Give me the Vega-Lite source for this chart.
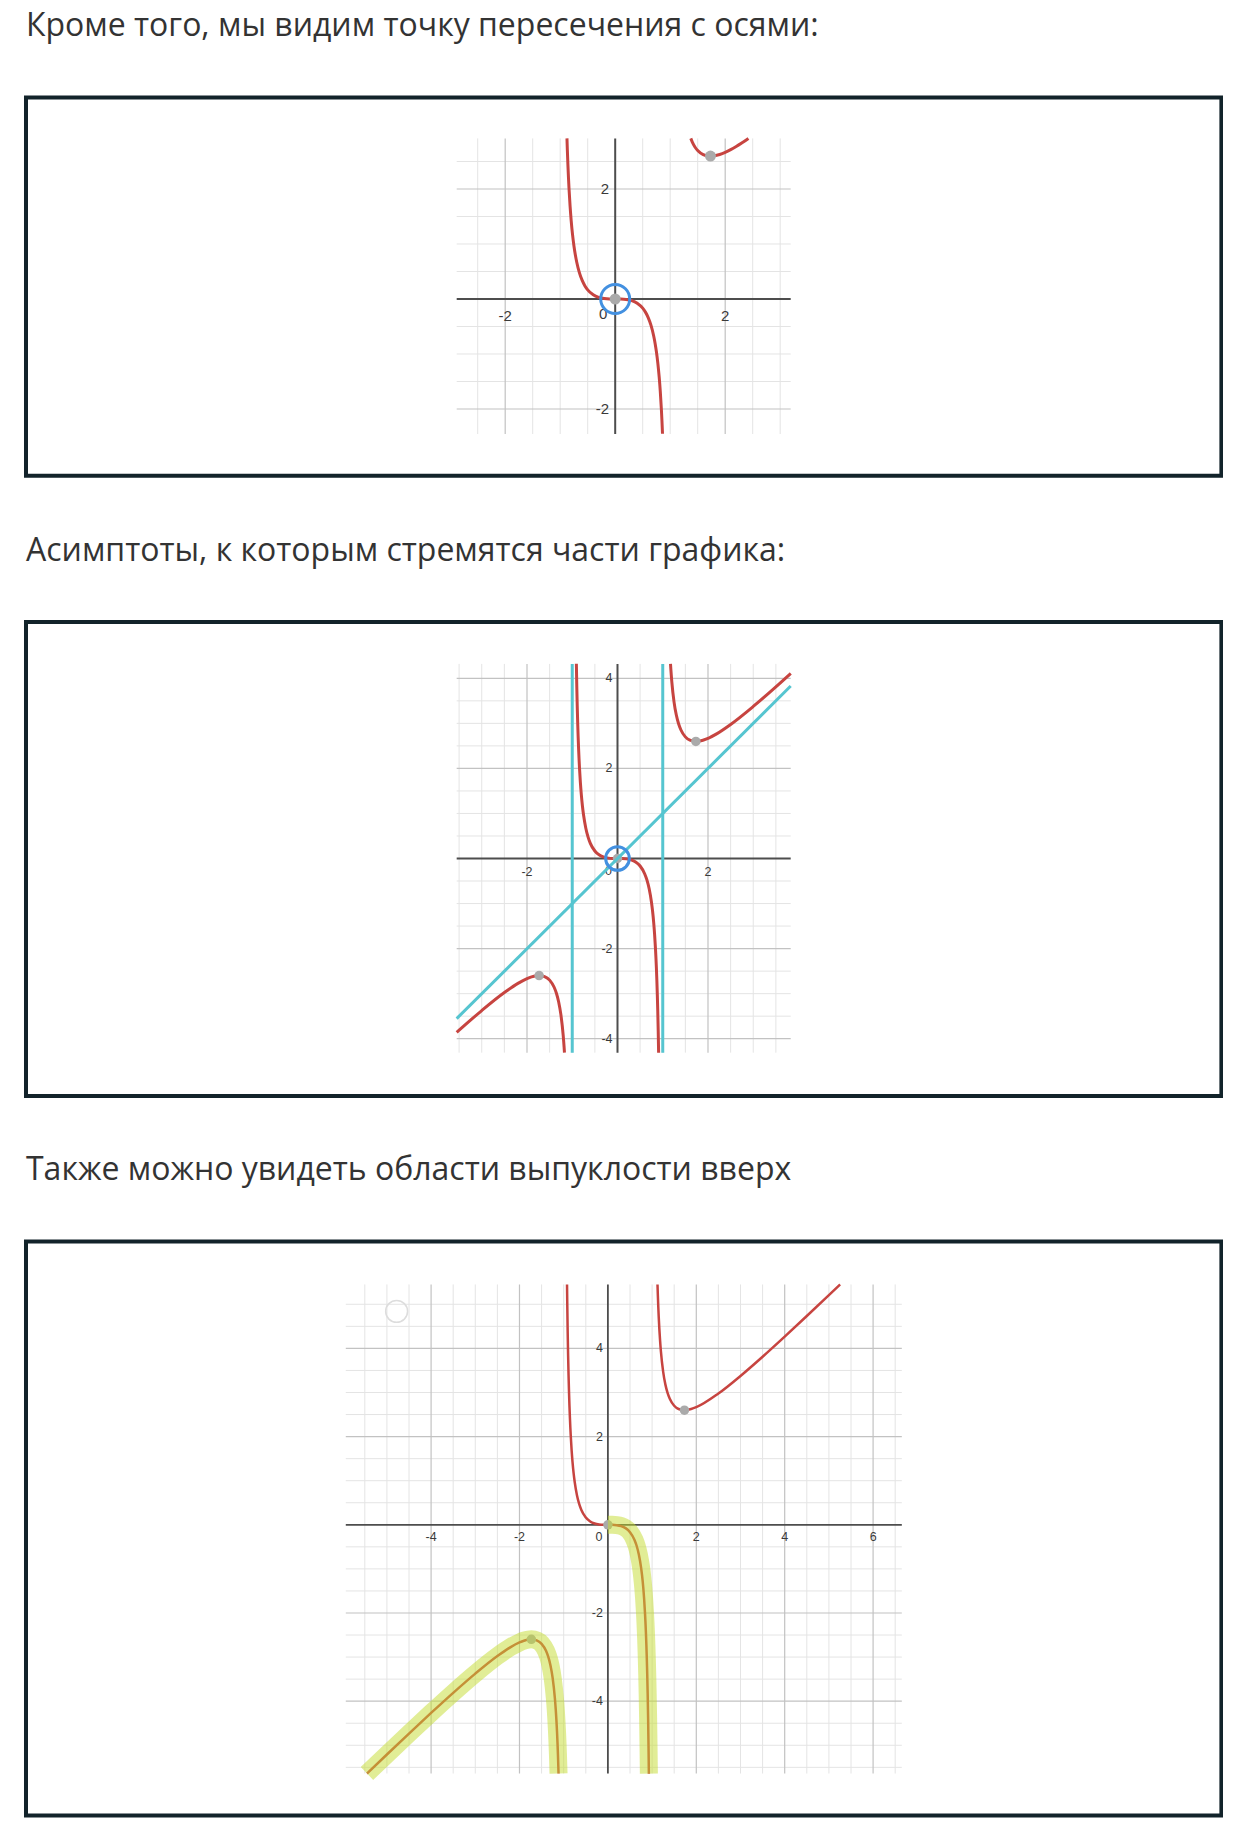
{
  "$schema": "https://vega.github.io/schema/vega-lite/v6.json",
  "background": "white",
  "padding": {"left": 24, "top": 7.5, "right": 0, "bottom": 0},
  "spacing": 53.5,
  "config": {
    "view": {"stroke": "#12232a", "strokeWidth": 4, "fill": "white"},
    "title": {"font": "Open Sans", "fontSize": 32, "fontWeight": "normal", "color": "#333333", "anchor": "start", "offset": 54.5, "baseline": "alphabetic"},
    "axis": {"disable": true},
    "legend": {"disable": true}
  },
  "datasets": {
    "grid1": [
      {"d":"v","v":-2.5,"l":"minor"},{"d":"v","v":-1.5,"l":"minor"},{"d":"v","v":-1,"l":"minor"},{"d":"v","v":-0.5,"l":"minor"},{"d":"v","v":0.5,"l":"minor"},{"d":"v","v":1,"l":"minor"},{"d":"v","v":1.5,"l":"minor"},{"d":"v","v":2.5,"l":"minor"},{"d":"v","v":3,"l":"minor"},
      {"d":"v","v":-2,"l":"major"},{"d":"v","v":2,"l":"major"},{"d":"v","v":0,"l":"zero"},
      {"d":"h","v":-1.5,"l":"minor"},{"d":"h","v":-1,"l":"minor"},{"d":"h","v":-0.5,"l":"minor"},{"d":"h","v":0.5,"l":"minor"},{"d":"h","v":1,"l":"minor"},{"d":"h","v":1.5,"l":"minor"},{"d":"h","v":2.5,"l":"minor"},
      {"d":"h","v":-2,"l":"major"},{"d":"h","v":2,"l":"major"},{"d":"h","v":0,"l":"zero"}
    ],
    "grid2": [
      {"d":"v","v":-3.5,"l":"minor"},{"d":"v","v":-3,"l":"minor"},{"d":"v","v":-2.5,"l":"minor"},{"d":"v","v":-1.5,"l":"minor"},{"d":"v","v":-1,"l":"minor"},{"d":"v","v":-0.5,"l":"minor"},{"d":"v","v":0.5,"l":"minor"},{"d":"v","v":1,"l":"minor"},{"d":"v","v":1.5,"l":"minor"},{"d":"v","v":2.5,"l":"minor"},{"d":"v","v":3,"l":"minor"},{"d":"v","v":3.5,"l":"minor"},
      {"d":"v","v":-2,"l":"major"},{"d":"v","v":2,"l":"major"},{"d":"v","v":0,"l":"zero"},
      {"d":"h","v":-3.5,"l":"minor"},{"d":"h","v":-3,"l":"minor"},{"d":"h","v":-2.5,"l":"minor"},{"d":"h","v":-1.5,"l":"minor"},{"d":"h","v":-1,"l":"minor"},{"d":"h","v":-0.5,"l":"minor"},{"d":"h","v":0.5,"l":"minor"},{"d":"h","v":1,"l":"minor"},{"d":"h","v":1.5,"l":"minor"},{"d":"h","v":2.5,"l":"minor"},{"d":"h","v":3,"l":"minor"},{"d":"h","v":3.5,"l":"minor"},
      {"d":"h","v":-4,"l":"major"},{"d":"h","v":-2,"l":"major"},{"d":"h","v":2,"l":"major"},{"d":"h","v":4,"l":"major"},{"d":"h","v":0,"l":"zero"}
    ],
    "grid3": [
      {"d":"v","v":-5.5,"l":"minor"},{"d":"v","v":-5,"l":"minor"},{"d":"v","v":-4.5,"l":"minor"},{"d":"v","v":-3.5,"l":"minor"},{"d":"v","v":-3,"l":"minor"},{"d":"v","v":-2.5,"l":"minor"},{"d":"v","v":-1.5,"l":"minor"},{"d":"v","v":-1,"l":"minor"},{"d":"v","v":-0.5,"l":"minor"},{"d":"v","v":0.5,"l":"minor"},{"d":"v","v":1,"l":"minor"},{"d":"v","v":1.5,"l":"minor"},{"d":"v","v":2.5,"l":"minor"},{"d":"v","v":3,"l":"minor"},{"d":"v","v":3.5,"l":"minor"},{"d":"v","v":4.5,"l":"minor"},{"d":"v","v":5,"l":"minor"},{"d":"v","v":5.5,"l":"minor"},{"d":"v","v":6.5,"l":"minor"},
      {"d":"v","v":-4,"l":"major"},{"d":"v","v":-2,"l":"major"},{"d":"v","v":2,"l":"major"},{"d":"v","v":4,"l":"major"},{"d":"v","v":6,"l":"major"},{"d":"v","v":0,"l":"zero"},
      {"d":"h","v":-5.5,"l":"minor"},{"d":"h","v":-5,"l":"minor"},{"d":"h","v":-4.5,"l":"minor"},{"d":"h","v":-3.5,"l":"minor"},{"d":"h","v":-3,"l":"minor"},{"d":"h","v":-2.5,"l":"minor"},{"d":"h","v":-1.5,"l":"minor"},{"d":"h","v":-1,"l":"minor"},{"d":"h","v":-0.5,"l":"minor"},{"d":"h","v":0.5,"l":"minor"},{"d":"h","v":1,"l":"minor"},{"d":"h","v":1.5,"l":"minor"},{"d":"h","v":2.5,"l":"minor"},{"d":"h","v":3,"l":"minor"},{"d":"h","v":3.5,"l":"minor"},{"d":"h","v":4.5,"l":"minor"},{"d":"h","v":5,"l":"minor"},
      {"d":"h","v":-4,"l":"major"},{"d":"h","v":-2,"l":"major"},{"d":"h","v":2,"l":"major"},{"d":"h","v":4,"l":"major"},{"d":"h","v":0,"l":"zero"}
    ],
    "lab1": [
      {"x":-2,"y":0,"t":"-2","k":"x"},{"x":2,"y":0,"t":"2","k":"x"},{"x":0,"y":0,"t":"0","k":"o"},
      {"x":0,"y":2,"t":"2","k":"y"},{"x":0,"y":-2,"t":"-2","k":"y"}
    ],
    "lab2": [
      {"x":-2,"y":0,"t":"-2","k":"x"},{"x":2,"y":0,"t":"2","k":"x"},{"x":0,"y":0,"t":"0","k":"o"},
      {"x":0,"y":4,"t":"4","k":"y"},{"x":0,"y":2,"t":"2","k":"y"},{"x":0,"y":-2,"t":"-2","k":"y"},{"x":0,"y":-4,"t":"-4","k":"y"}
    ],
    "lab3": [
      {"x":-4,"y":0,"t":"-4","k":"x"},{"x":-2,"y":0,"t":"-2","k":"x"},{"x":2,"y":0,"t":"2","k":"x"},{"x":4,"y":0,"t":"4","k":"x"},{"x":6,"y":0,"t":"6","k":"x"},{"x":0,"y":0,"t":"0","k":"o"},
      {"x":0,"y":4,"t":"4","k":"y"},{"x":0,"y":2,"t":"2","k":"y"},{"x":0,"y":-2,"t":"-2","k":"y"},{"x":0,"y":-4,"t":"-4","k":"y"}
    ],
    "curve1": [
      {"b":"mid","x":-0.877,"y":2.9217},{"b":"mid","x":-0.87,"y":2.7088},{"b":"mid","x":-0.86,"y":2.4426},{"b":"mid","x":-0.85,"y":2.2131},{"b":"mid","x":-0.84,"y":2.0133},{"b":"mid","x":-0.82,"y":1.683},{"b":"mid","x":-0.8,"y":1.4222},{"b":"mid","x":-0.775,"y":1.1655},{"b":"mid","x":-0.75,"y":0.9643},{"b":"mid","x":-0.725,"y":0.8033},{"b":"mid","x":-0.7,"y":0.6725},{"b":"mid","x":-0.65,"y":0.4755},{"b":"mid","x":-0.6,"y":0.3375},{"b":"mid","x":-0.55,"y":0.2385},{"b":"mid","x":-0.5,"y":0.1667},{"b":"mid","x":-0.4,"y":0.0762},{"b":"mid","x":-0.3,"y":0.0297},{"b":"mid","x":-0.2,"y":0.0083},{"b":"mid","x":-0.1,"y":0.001},{"b":"mid","x":0,"y":0},
      {"b":"mid","x":0.1,"y":-0.001},{"b":"mid","x":0.2,"y":-0.0083},{"b":"mid","x":0.3,"y":-0.0297},{"b":"mid","x":0.4,"y":-0.0762},{"b":"mid","x":0.5,"y":-0.1667},{"b":"mid","x":0.55,"y":-0.2385},{"b":"mid","x":0.6,"y":-0.3375},{"b":"mid","x":0.65,"y":-0.4755},{"b":"mid","x":0.7,"y":-0.6725},{"b":"mid","x":0.725,"y":-0.8033},{"b":"mid","x":0.75,"y":-0.9643},{"b":"mid","x":0.775,"y":-1.1655},{"b":"mid","x":0.8,"y":-1.4222},{"b":"mid","x":0.82,"y":-1.683},{"b":"mid","x":0.84,"y":-2.0133},{"b":"mid","x":0.85,"y":-2.2131},{"b":"mid","x":0.86,"y":-2.4426},{"b":"mid","x":0.8603,"y":-2.45},
      {"b":"right","x":1.3745,"y":2.92},{"b":"right","x":1.4,"y":2.8583},{"b":"right","x":1.45,"y":2.7652},{"b":"right","x":1.5,"y":2.7},{"b":"right","x":1.6,"y":2.6256},{"b":"right","x":1.7,"y":2.5995},{"b":"right","x":1.7321,"y":2.5981},{"b":"right","x":1.8,"y":2.6036},{"b":"right","x":1.9,"y":2.628},{"b":"right","x":2.0,"y":2.6667},{"b":"right","x":2.1,"y":2.7158},{"b":"right","x":2.2,"y":2.7729},{"b":"right","x":2.3,"y":2.8361},{"b":"right","x":2.4225,"y":2.92}
    ],
    "curve2": [
      {"b":"left","x":-3.554,"y":-3.8596},{"b":"left","x":-3.5,"y":-3.8111},{"b":"left","x":-3.0,"y":-3.375},{"b":"left","x":-2.5,"y":-2.9762},{"b":"left","x":-2.2,"y":-2.7729},{"b":"left","x":-2.0,"y":-2.6667},{"b":"left","x":-1.9,"y":-2.628},{"b":"left","x":-1.8,"y":-2.6036},{"b":"left","x":-1.7321,"y":-2.5981},{"b":"left","x":-1.6,"y":-2.6256},{"b":"left","x":-1.5,"y":-2.7},{"b":"left","x":-1.4,"y":-2.8583},{"b":"left","x":-1.35,"y":-2.9913},{"b":"left","x":-1.3,"y":-3.1841},{"b":"left","x":-1.25,"y":-3.4722},{"b":"left","x":-1.2,"y":-3.9273},{"b":"left","x":-1.18,"y":-4.1871},{"b":"left","x":-1.172,"y":-4.3092},
      {"b":"mid","x":-0.909,"y":4.3236},{"b":"mid","x":-0.9,"y":3.8368},{"b":"mid","x":-0.89,"y":3.3909},{"b":"mid","x":-0.88,"y":3.0207},{"b":"mid","x":-0.87,"y":2.7088},{"b":"mid","x":-0.86,"y":2.4426},{"b":"mid","x":-0.85,"y":2.2131},{"b":"mid","x":-0.84,"y":2.0133},{"b":"mid","x":-0.82,"y":1.683},{"b":"mid","x":-0.8,"y":1.4222},{"b":"mid","x":-0.775,"y":1.1655},{"b":"mid","x":-0.75,"y":0.9643},{"b":"mid","x":-0.7,"y":0.6725},{"b":"mid","x":-0.65,"y":0.4755},{"b":"mid","x":-0.6,"y":0.3375},{"b":"mid","x":-0.5,"y":0.1667},{"b":"mid","x":-0.4,"y":0.0762},{"b":"mid","x":-0.3,"y":0.0297},{"b":"mid","x":-0.2,"y":0.0083},{"b":"mid","x":-0.1,"y":0.001},{"b":"mid","x":0,"y":0},
      {"b":"mid","x":0.1,"y":-0.001},{"b":"mid","x":0.2,"y":-0.0083},{"b":"mid","x":0.3,"y":-0.0297},{"b":"mid","x":0.4,"y":-0.0762},{"b":"mid","x":0.5,"y":-0.1667},{"b":"mid","x":0.6,"y":-0.3375},{"b":"mid","x":0.65,"y":-0.4755},{"b":"mid","x":0.7,"y":-0.6725},{"b":"mid","x":0.75,"y":-0.9643},{"b":"mid","x":0.775,"y":-1.1655},{"b":"mid","x":0.8,"y":-1.4222},{"b":"mid","x":0.82,"y":-1.683},{"b":"mid","x":0.84,"y":-2.0133},{"b":"mid","x":0.85,"y":-2.2131},{"b":"mid","x":0.86,"y":-2.4426},{"b":"mid","x":0.87,"y":-2.7088},{"b":"mid","x":0.88,"y":-3.0207},{"b":"mid","x":0.89,"y":-3.3909},{"b":"mid","x":0.9,"y":-3.8368},{"b":"mid","x":0.9088,"y":-4.312},
      {"b":"right","x":1.1713,"y":4.3205},{"b":"right","x":1.18,"y":4.1871},{"b":"right","x":1.2,"y":3.9273},{"b":"right","x":1.25,"y":3.4722},{"b":"right","x":1.3,"y":3.1841},{"b":"right","x":1.35,"y":2.9913},{"b":"right","x":1.4,"y":2.8583},{"b":"right","x":1.5,"y":2.7},{"b":"right","x":1.6,"y":2.6256},{"b":"right","x":1.7321,"y":2.5981},{"b":"right","x":1.8,"y":2.6036},{"b":"right","x":2.0,"y":2.6667},{"b":"right","x":2.2,"y":2.7729},{"b":"right","x":2.5,"y":2.9762},{"b":"right","x":3.0,"y":3.375},{"b":"right","x":3.5,"y":3.8111},{"b":"right","x":3.828,"y":4.1084}
    ],
    "curve3": [
      {"b":"left","x":-5.45,"y":-5.6399},{"b":"left","x":-5.0,"y":-5.2083},{"b":"left","x":-4.5,"y":-4.7338},{"b":"left","x":-4.0,"y":-4.2667},{"b":"left","x":-3.5,"y":-3.8111},{"b":"left","x":-3.0,"y":-3.375},{"b":"left","x":-2.5,"y":-2.9762},{"b":"left","x":-2.2,"y":-2.7729},{"b":"left","x":-2.0,"y":-2.6667},{"b":"left","x":-1.9,"y":-2.628},{"b":"left","x":-1.8,"y":-2.6036},{"b":"left","x":-1.7321,"y":-2.5981},{"b":"left","x":-1.6,"y":-2.6256},{"b":"left","x":-1.5,"y":-2.7},{"b":"left","x":-1.4,"y":-2.8583},{"b":"left","x":-1.35,"y":-2.9913},{"b":"left","x":-1.3,"y":-3.1841},{"b":"left","x":-1.25,"y":-3.4722},{"b":"left","x":-1.2,"y":-3.9273},{"b":"left","x":-1.18,"y":-4.1871},{"b":"left","x":-1.15,"y":-4.7159},{"b":"left","x":-1.14,"y":-4.9451},{"b":"left","x":-1.13,"y":-5.2109},{"b":"left","x":-1.1166,"y":-5.641},
      {"b":"mid","x":-0.9246,"y":5.45},{"b":"mid","x":-0.92,"y":5.0695},{"b":"mid","x":-0.91,"y":4.3838},{"b":"mid","x":-0.9,"y":3.8368},{"b":"mid","x":-0.89,"y":3.3909},{"b":"mid","x":-0.88,"y":3.0207},{"b":"mid","x":-0.87,"y":2.7088},{"b":"mid","x":-0.86,"y":2.4426},{"b":"mid","x":-0.85,"y":2.2131},{"b":"mid","x":-0.84,"y":2.0133},{"b":"mid","x":-0.82,"y":1.683},{"b":"mid","x":-0.8,"y":1.4222},{"b":"mid","x":-0.775,"y":1.1655},{"b":"mid","x":-0.75,"y":0.9643},{"b":"mid","x":-0.7,"y":0.6725},{"b":"mid","x":-0.65,"y":0.4755},{"b":"mid","x":-0.6,"y":0.3375},{"b":"mid","x":-0.5,"y":0.1667},{"b":"mid","x":-0.4,"y":0.0762},{"b":"mid","x":-0.3,"y":0.0297},{"b":"mid","x":-0.2,"y":0.0083},{"b":"mid","x":-0.1,"y":0.001},{"b":"mid","x":0,"y":0},
      {"b":"mid","x":0.1,"y":-0.001},{"b":"mid","x":0.2,"y":-0.0083},{"b":"mid","x":0.3,"y":-0.0297},{"b":"mid","x":0.4,"y":-0.0762},{"b":"mid","x":0.5,"y":-0.1667},{"b":"mid","x":0.6,"y":-0.3375},{"b":"mid","x":0.65,"y":-0.4755},{"b":"mid","x":0.7,"y":-0.6725},{"b":"mid","x":0.75,"y":-0.9643},{"b":"mid","x":0.775,"y":-1.1655},{"b":"mid","x":0.8,"y":-1.4222},{"b":"mid","x":0.82,"y":-1.683},{"b":"mid","x":0.84,"y":-2.0133},{"b":"mid","x":0.85,"y":-2.2131},{"b":"mid","x":0.86,"y":-2.4426},{"b":"mid","x":0.87,"y":-2.7088},{"b":"mid","x":0.88,"y":-3.0207},{"b":"mid","x":0.89,"y":-3.3909},{"b":"mid","x":0.9,"y":-3.8368},{"b":"mid","x":0.91,"y":-4.3838},{"b":"mid","x":0.92,"y":-5.0695},{"b":"mid","x":0.925,"y":-5.4819},{"b":"mid","x":0.9268,"y":-5.6443},
      {"b":"right","x":1.1222,"y":5.4495},{"b":"right","x":1.13,"y":5.2109},{"b":"right","x":1.14,"y":4.9451},{"b":"right","x":1.15,"y":4.7159},{"b":"right","x":1.18,"y":4.1871},{"b":"right","x":1.2,"y":3.9273},{"b":"right","x":1.25,"y":3.4722},{"b":"right","x":1.3,"y":3.1841},{"b":"right","x":1.35,"y":2.9913},{"b":"right","x":1.4,"y":2.8583},{"b":"right","x":1.5,"y":2.7},{"b":"right","x":1.6,"y":2.6256},{"b":"right","x":1.7321,"y":2.5981},{"b":"right","x":1.8,"y":2.6036},{"b":"right","x":2.0,"y":2.6667},{"b":"right","x":2.5,"y":2.9762},{"b":"right","x":3.0,"y":3.375},{"b":"right","x":3.5,"y":3.8111},{"b":"right","x":4.0,"y":4.2667},{"b":"right","x":4.5,"y":4.7338},{"b":"right","x":5.0,"y":5.2083},{"b":"right","x":5.2525,"y":5.45}
    ],
    "dots1": [{"x":1.7321,"y":2.5981},{"x":0,"y":0}],
    "dots23": [{"x":1.7321,"y":2.5981},{"x":-1.7321,"y":-2.5981},{"x":0,"y":0}],
    "origin": [{"x":0,"y":0}],
    "asymV": [{"x":-1},{"x":1}],
    "asymD": [{"x":-3.554,"y":-3.554},{"x":3.828,"y":3.828}],
    "faint": [{"x":-4.78,"y":4.84}]
  },
  "vconcat": [
    {
      "title": {"text": "Кроме того, мы видим точку пересечения с осями:"},
      "width": 1195.4, "height": 378.2,
      "layer": [
        {"data":{"name":"grid1"},"transform":[{"filter":"datum.d=='v' && datum.l=='minor'"}],"mark":{"type":"rule","color":"#e4e4e4","strokeWidth":1},
         "encoding":{"x":{"field":"v","type":"quantitative","scale":{"domain":[-10.713,11.022],"nice":false,"zero":false},"axis":null},"y":{"datum":-2.455,"type":"quantitative","scale":{"domain":[-3.213,3.664],"nice":false,"zero":false},"axis":null},"y2":{"datum":2.92}}},
        {"data":{"name":"grid1"},"transform":[{"filter":"datum.d=='h' && datum.l=='minor'"}],"mark":{"type":"rule","color":"#e4e4e4","strokeWidth":1},
         "encoding":{"y":{"field":"v","type":"quantitative","scale":{"domain":[-3.213,3.664],"nice":false,"zero":false},"axis":null},"x":{"datum":-2.882,"type":"quantitative","scale":{"domain":[-10.713,11.022],"nice":false,"zero":false},"axis":null},"x2":{"datum":3.191}}},
        {"data":{"name":"grid1"},"transform":[{"filter":"datum.d=='v' && datum.l=='major'"}],"mark":{"type":"rule","color":"#c2c2c2","strokeWidth":1.2},
         "encoding":{"x":{"field":"v","type":"quantitative","scale":{"domain":[-10.713,11.022],"nice":false,"zero":false},"axis":null},"y":{"datum":-2.455,"type":"quantitative","scale":{"domain":[-3.213,3.664],"nice":false,"zero":false},"axis":null},"y2":{"datum":2.92}}},
        {"data":{"name":"grid1"},"transform":[{"filter":"datum.d=='h' && datum.l=='major'"}],"mark":{"type":"rule","color":"#c2c2c2","strokeWidth":1.2},
         "encoding":{"y":{"field":"v","type":"quantitative","scale":{"domain":[-3.213,3.664],"nice":false,"zero":false},"axis":null},"x":{"datum":-2.882,"type":"quantitative","scale":{"domain":[-10.713,11.022],"nice":false,"zero":false},"axis":null},"x2":{"datum":3.191}}},
        {"data":{"name":"grid1"},"transform":[{"filter":"datum.d=='v' && datum.l=='zero'"}],"mark":{"type":"rule","color":"#4d4d4d","strokeWidth":2},
         "encoding":{"x":{"field":"v","type":"quantitative","scale":{"domain":[-10.713,11.022],"nice":false,"zero":false},"axis":null},"y":{"datum":-2.455,"type":"quantitative","scale":{"domain":[-3.213,3.664],"nice":false,"zero":false},"axis":null},"y2":{"datum":2.92}}},
        {"data":{"name":"grid1"},"transform":[{"filter":"datum.d=='h' && datum.l=='zero'"}],"mark":{"type":"rule","color":"#4d4d4d","strokeWidth":2},
         "encoding":{"y":{"field":"v","type":"quantitative","scale":{"domain":[-3.213,3.664],"nice":false,"zero":false},"axis":null},"x":{"datum":-2.882,"type":"quantitative","scale":{"domain":[-10.713,11.022],"nice":false,"zero":false},"axis":null},"x2":{"datum":3.191}}},
        {"data":{"name":"lab1"},"transform":[{"filter":"datum.k=='x'"}],"mark":{"type":"text","font":"Liberation Sans","fontSize":15,"color":"#3a3a3a","dy":17,"align":"center","baseline":"middle"},
         "encoding":{"x":{"field":"x","type":"quantitative","scale":{"domain":[-10.713,11.022],"nice":false,"zero":false},"axis":null},"y":{"field":"y","type":"quantitative","scale":{"domain":[-3.213,3.664],"nice":false,"zero":false},"axis":null},"text":{"field":"t"}}},
        {"data":{"name":"lab1"},"transform":[{"filter":"datum.k=='y'"}],"mark":{"type":"text","font":"Liberation Sans","fontSize":15,"color":"#3a3a3a","dx":-6,"align":"right","baseline":"middle"},
         "encoding":{"x":{"field":"x","type":"quantitative","scale":{"domain":[-10.713,11.022],"nice":false,"zero":false},"axis":null},"y":{"field":"y","type":"quantitative","scale":{"domain":[-3.213,3.664],"nice":false,"zero":false},"axis":null},"text":{"field":"t"}}},
        {"data":{"name":"lab1"},"transform":[{"filter":"datum.k=='o'"}],"mark":{"type":"text","font":"Liberation Sans","fontSize":15,"color":"#3a3a3a","dx":-12,"dy":15,"align":"center","baseline":"middle"},
         "encoding":{"x":{"field":"x","type":"quantitative","scale":{"domain":[-10.713,11.022],"nice":false,"zero":false},"axis":null},"y":{"field":"y","type":"quantitative","scale":{"domain":[-3.213,3.664],"nice":false,"zero":false},"axis":null},"text":{"field":"t"}}},
        {"data":{"name":"curve1"},"mark":{"type":"line","color":"#c74440","strokeWidth":3,"interpolate":"monotone"},
         "encoding":{"x":{"field":"x","type":"quantitative","scale":{"domain":[-10.713,11.022],"nice":false,"zero":false},"axis":null},"y":{"field":"y","type":"quantitative","scale":{"domain":[-3.213,3.664],"nice":false,"zero":false},"axis":null},"detail":{"field":"b"},"order":{"field":"x"}}},
        {"data":{"name":"dots1"},"mark":{"type":"point","filled":true,"color":"#aaaaaa","opacity":1,"size":121},
         "encoding":{"x":{"field":"x","type":"quantitative","scale":{"domain":[-10.713,11.022],"nice":false,"zero":false},"axis":null},"y":{"field":"y","type":"quantitative","scale":{"domain":[-3.213,3.664],"nice":false,"zero":false},"axis":null}}},
        {"data":{"name":"origin"},"mark":{"type":"point","filled":false,"stroke":"#4390e0","strokeWidth":3,"opacity":1,"size":840},
         "encoding":{"x":{"field":"x","type":"quantitative","scale":{"domain":[-10.713,11.022],"nice":false,"zero":false},"axis":null},"y":{"field":"y","type":"quantitative","scale":{"domain":[-3.213,3.664],"nice":false,"zero":false},"axis":null}}}
      ]
    },
    {
      "title": {"text": "Асимптоты, к которым стремятся части графика:"},
      "width": 1195.4, "height": 474,
      "layer": [
        {"data":{"name":"grid2"},"transform":[{"filter":"datum.d=='v' && datum.l=='minor'"}],"mark":{"type":"rule","color":"#e4e4e4","strokeWidth":1},
         "encoding":{"x":{"field":"v","type":"quantitative","scale":{"domain":[-13.072,13.346],"nice":false,"zero":false},"axis":null},"y":{"datum":-4.31,"type":"quantitative","scale":{"domain":[-5.272,5.25],"nice":false,"zero":false},"axis":null},"y2":{"datum":4.32}}},
        {"data":{"name":"grid2"},"transform":[{"filter":"datum.d=='h' && datum.l=='minor'"}],"mark":{"type":"rule","color":"#e4e4e4","strokeWidth":1},
         "encoding":{"y":{"field":"v","type":"quantitative","scale":{"domain":[-5.272,5.25],"nice":false,"zero":false},"axis":null},"x":{"datum":-3.554,"type":"quantitative","scale":{"domain":[-13.072,13.346],"nice":false,"zero":false},"axis":null},"x2":{"datum":3.828}}},
        {"data":{"name":"grid2"},"transform":[{"filter":"datum.d=='v' && datum.l=='major'"}],"mark":{"type":"rule","color":"#c2c2c2","strokeWidth":1.2},
         "encoding":{"x":{"field":"v","type":"quantitative","scale":{"domain":[-13.072,13.346],"nice":false,"zero":false},"axis":null},"y":{"datum":-4.31,"type":"quantitative","scale":{"domain":[-5.272,5.25],"nice":false,"zero":false},"axis":null},"y2":{"datum":4.32}}},
        {"data":{"name":"grid2"},"transform":[{"filter":"datum.d=='h' && datum.l=='major'"}],"mark":{"type":"rule","color":"#c2c2c2","strokeWidth":1.2},
         "encoding":{"y":{"field":"v","type":"quantitative","scale":{"domain":[-5.272,5.25],"nice":false,"zero":false},"axis":null},"x":{"datum":-3.554,"type":"quantitative","scale":{"domain":[-13.072,13.346],"nice":false,"zero":false},"axis":null},"x2":{"datum":3.828}}},
        {"data":{"name":"grid2"},"transform":[{"filter":"datum.d=='v' && datum.l=='zero'"}],"mark":{"type":"rule","color":"#4d4d4d","strokeWidth":2},
         "encoding":{"x":{"field":"v","type":"quantitative","scale":{"domain":[-13.072,13.346],"nice":false,"zero":false},"axis":null},"y":{"datum":-4.31,"type":"quantitative","scale":{"domain":[-5.272,5.25],"nice":false,"zero":false},"axis":null},"y2":{"datum":4.32}}},
        {"data":{"name":"grid2"},"transform":[{"filter":"datum.d=='h' && datum.l=='zero'"}],"mark":{"type":"rule","color":"#4d4d4d","strokeWidth":2},
         "encoding":{"y":{"field":"v","type":"quantitative","scale":{"domain":[-5.272,5.25],"nice":false,"zero":false},"axis":null},"x":{"datum":-3.554,"type":"quantitative","scale":{"domain":[-13.072,13.346],"nice":false,"zero":false},"axis":null},"x2":{"datum":3.828}}},
        {"data":{"name":"lab2"},"transform":[{"filter":"datum.k=='x'"}],"mark":{"type":"text","font":"Liberation Sans","fontSize":12.5,"color":"#3a3a3a","dy":13,"align":"center","baseline":"middle"},
         "encoding":{"x":{"field":"x","type":"quantitative","scale":{"domain":[-13.072,13.346],"nice":false,"zero":false},"axis":null},"y":{"field":"y","type":"quantitative","scale":{"domain":[-5.272,5.25],"nice":false,"zero":false},"axis":null},"text":{"field":"t"}}},
        {"data":{"name":"lab2"},"transform":[{"filter":"datum.k=='y'"}],"mark":{"type":"text","font":"Liberation Sans","fontSize":12.5,"color":"#3a3a3a","dx":-5,"align":"right","baseline":"middle"},
         "encoding":{"x":{"field":"x","type":"quantitative","scale":{"domain":[-13.072,13.346],"nice":false,"zero":false},"axis":null},"y":{"field":"y","type":"quantitative","scale":{"domain":[-5.272,5.25],"nice":false,"zero":false},"axis":null},"text":{"field":"t"}}},
        {"data":{"name":"lab2"},"transform":[{"filter":"datum.k=='o'"}],"mark":{"type":"text","font":"Liberation Sans","fontSize":12.5,"color":"#3a3a3a","dx":-9,"dy":12.5,"align":"center","baseline":"middle"},
         "encoding":{"x":{"field":"x","type":"quantitative","scale":{"domain":[-13.072,13.346],"nice":false,"zero":false},"axis":null},"y":{"field":"y","type":"quantitative","scale":{"domain":[-5.272,5.25],"nice":false,"zero":false},"axis":null},"text":{"field":"t"}}},
        {"data":{"name":"curve2"},"mark":{"type":"line","color":"#c74440","strokeWidth":3,"interpolate":"monotone"},
         "encoding":{"x":{"field":"x","type":"quantitative","scale":{"domain":[-13.072,13.346],"nice":false,"zero":false},"axis":null},"y":{"field":"y","type":"quantitative","scale":{"domain":[-5.272,5.25],"nice":false,"zero":false},"axis":null},"detail":{"field":"b"},"order":{"field":"x"}}},
        {"data":{"name":"dots23"},"mark":{"type":"point","filled":true,"color":"#aaaaaa","opacity":1,"size":90},
         "encoding":{"x":{"field":"x","type":"quantitative","scale":{"domain":[-13.072,13.346],"nice":false,"zero":false},"axis":null},"y":{"field":"y","type":"quantitative","scale":{"domain":[-5.272,5.25],"nice":false,"zero":false},"axis":null}}},
        {"data":{"name":"asymV"},"mark":{"type":"rule","color":"#56c5d0","strokeWidth":3},
         "encoding":{"x":{"field":"x","type":"quantitative","scale":{"domain":[-13.072,13.346],"nice":false,"zero":false},"axis":null},"y":{"datum":-4.31,"type":"quantitative","scale":{"domain":[-5.272,5.25],"nice":false,"zero":false},"axis":null},"y2":{"datum":4.32}}},
        {"data":{"name":"asymD"},"mark":{"type":"line","color":"#56c5d0","strokeWidth":3},
         "encoding":{"x":{"field":"x","type":"quantitative","scale":{"domain":[-13.072,13.346],"nice":false,"zero":false},"axis":null},"y":{"field":"y","type":"quantitative","scale":{"domain":[-5.272,5.25],"nice":false,"zero":false},"axis":null}}},
        {"data":{"name":"origin"},"mark":{"type":"point","filled":false,"stroke":"#4390e0","strokeWidth":3,"opacity":1,"size":560},
         "encoding":{"x":{"field":"x","type":"quantitative","scale":{"domain":[-13.072,13.346],"nice":false,"zero":false},"axis":null},"y":{"field":"y","type":"quantitative","scale":{"domain":[-5.272,5.25],"nice":false,"zero":false},"axis":null}}}
      ]
    },
    {
      "title": {"text": "Также можно увидеть области выпуклости вверх"},
      "width": 1195.4, "height": 574,
      "layer": [
        {"data":{"name":"grid3"},"transform":[{"filter":"datum.d=='v' && datum.l=='minor'"}],"mark":{"type":"rule","color":"#e4e4e4","strokeWidth":1},
         "encoding":{"x":{"field":"v","type":"quantitative","scale":{"domain":[-13.165,13.88],"nice":false,"zero":false},"axis":null},"y":{"datum":-5.64,"type":"quantitative","scale":{"domain":[-6.592,6.424],"nice":false,"zero":false},"axis":null},"y2":{"datum":5.45}}},
        {"data":{"name":"grid3"},"transform":[{"filter":"datum.d=='h' && datum.l=='minor'"}],"mark":{"type":"rule","color":"#e4e4e4","strokeWidth":1},
         "encoding":{"y":{"field":"v","type":"quantitative","scale":{"domain":[-6.592,6.424],"nice":false,"zero":false},"axis":null},"x":{"datum":-5.93,"type":"quantitative","scale":{"domain":[-13.165,13.88],"nice":false,"zero":false},"axis":null},"x2":{"datum":6.65}}},
        {"data":{"name":"grid3"},"transform":[{"filter":"datum.d=='v' && datum.l=='major'"}],"mark":{"type":"rule","color":"#c2c2c2","strokeWidth":1.2},
         "encoding":{"x":{"field":"v","type":"quantitative","scale":{"domain":[-13.165,13.88],"nice":false,"zero":false},"axis":null},"y":{"datum":-5.64,"type":"quantitative","scale":{"domain":[-6.592,6.424],"nice":false,"zero":false},"axis":null},"y2":{"datum":5.45}}},
        {"data":{"name":"grid3"},"transform":[{"filter":"datum.d=='h' && datum.l=='major'"}],"mark":{"type":"rule","color":"#c2c2c2","strokeWidth":1.2},
         "encoding":{"y":{"field":"v","type":"quantitative","scale":{"domain":[-6.592,6.424],"nice":false,"zero":false},"axis":null},"x":{"datum":-5.93,"type":"quantitative","scale":{"domain":[-13.165,13.88],"nice":false,"zero":false},"axis":null},"x2":{"datum":6.65}}},
        {"data":{"name":"grid3"},"transform":[{"filter":"datum.d=='v' && datum.l=='zero'"}],"mark":{"type":"rule","color":"#4d4d4d","strokeWidth":1.8},
         "encoding":{"x":{"field":"v","type":"quantitative","scale":{"domain":[-13.165,13.88],"nice":false,"zero":false},"axis":null},"y":{"datum":-5.64,"type":"quantitative","scale":{"domain":[-6.592,6.424],"nice":false,"zero":false},"axis":null},"y2":{"datum":5.45}}},
        {"data":{"name":"grid3"},"transform":[{"filter":"datum.d=='h' && datum.l=='zero'"}],"mark":{"type":"rule","color":"#4d4d4d","strokeWidth":1.8},
         "encoding":{"y":{"field":"v","type":"quantitative","scale":{"domain":[-6.592,6.424],"nice":false,"zero":false},"axis":null},"x":{"datum":-5.93,"type":"quantitative","scale":{"domain":[-13.165,13.88],"nice":false,"zero":false},"axis":null},"x2":{"datum":6.65}}},
        {"data":{"name":"lab3"},"transform":[{"filter":"datum.k=='x'"}],"mark":{"type":"text","font":"Liberation Sans","fontSize":12.5,"color":"#3a3a3a","dy":12,"align":"center","baseline":"middle"},
         "encoding":{"x":{"field":"x","type":"quantitative","scale":{"domain":[-13.165,13.88],"nice":false,"zero":false},"axis":null},"y":{"field":"y","type":"quantitative","scale":{"domain":[-6.592,6.424],"nice":false,"zero":false},"axis":null},"text":{"field":"t"}}},
        {"data":{"name":"lab3"},"transform":[{"filter":"datum.k=='y'"}],"mark":{"type":"text","font":"Liberation Sans","fontSize":12.5,"color":"#3a3a3a","dx":-5,"align":"right","baseline":"middle"},
         "encoding":{"x":{"field":"x","type":"quantitative","scale":{"domain":[-13.165,13.88],"nice":false,"zero":false},"axis":null},"y":{"field":"y","type":"quantitative","scale":{"domain":[-6.592,6.424],"nice":false,"zero":false},"axis":null},"text":{"field":"t"}}},
        {"data":{"name":"lab3"},"transform":[{"filter":"datum.k=='o'"}],"mark":{"type":"text","font":"Liberation Sans","fontSize":12.5,"color":"#3a3a3a","dx":-9,"dy":12,"align":"center","baseline":"middle"},
         "encoding":{"x":{"field":"x","type":"quantitative","scale":{"domain":[-13.165,13.88],"nice":false,"zero":false},"axis":null},"y":{"field":"y","type":"quantitative","scale":{"domain":[-6.592,6.424],"nice":false,"zero":false},"axis":null},"text":{"field":"t"}}},
        {"data":{"name":"faint"},"mark":{"type":"point","filled":false,"stroke":"#dddddd","strokeWidth":1.5,"opacity":1,"size":480},
         "encoding":{"x":{"field":"x","type":"quantitative","scale":{"domain":[-13.165,13.88],"nice":false,"zero":false},"axis":null},"y":{"field":"y","type":"quantitative","scale":{"domain":[-6.592,6.424],"nice":false,"zero":false},"axis":null}}},
        {"data":{"name":"curve3"},"mark":{"type":"line","color":"#c74440","strokeWidth":2.5,"interpolate":"monotone"},
         "encoding":{"x":{"field":"x","type":"quantitative","scale":{"domain":[-13.165,13.88],"nice":false,"zero":false},"axis":null},"y":{"field":"y","type":"quantitative","scale":{"domain":[-6.592,6.424],"nice":false,"zero":false},"axis":null},"detail":{"field":"b"},"order":{"field":"x"}}},
        {"data":{"name":"dots23"},"mark":{"type":"point","filled":true,"color":"#aaaaaa","opacity":1,"size":90},
         "encoding":{"x":{"field":"x","type":"quantitative","scale":{"domain":[-13.165,13.88],"nice":false,"zero":false},"axis":null},"y":{"field":"y","type":"quantitative","scale":{"domain":[-6.592,6.424],"nice":false,"zero":false},"axis":null}}},
        {"data":{"name":"curve3"},"transform":[{"filter":"datum.b=='left' || (datum.b=='mid' && datum.x >= 0)"}],"mark":{"type":"line","color":"#c3db2d","opacity":0.5,"strokeWidth":18,"strokeCap":"butt","strokeJoin":"round","interpolate":"monotone"},
         "encoding":{"x":{"field":"x","type":"quantitative","scale":{"domain":[-13.165,13.88],"nice":false,"zero":false},"axis":null},"y":{"field":"y","type":"quantitative","scale":{"domain":[-6.592,6.424],"nice":false,"zero":false},"axis":null},"detail":{"field":"b"},"order":{"field":"x"}}}
      ]
    }
  ]
}
